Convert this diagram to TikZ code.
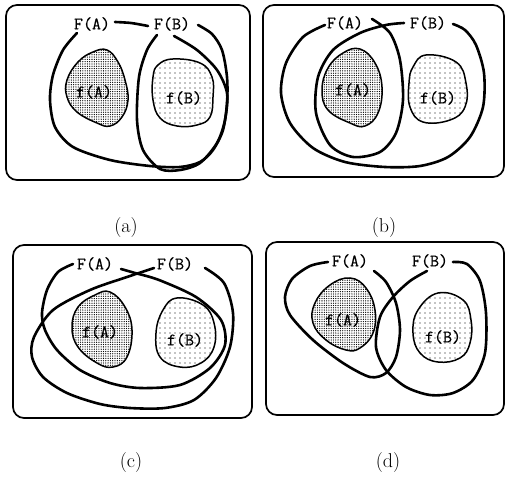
\documentclass[tikz,border=0pt]{standalone}
\usepackage{fontspec}
\newfontfamily\labfont{Latin Modern Mono}[FakeBold=0.6]
\usetikzlibrary{patterns.meta}
\tikzset{
  frame/.style={line width=1.7pt, rounded corners=11pt},
  curve/.style={line width=2.6pt, line cap=round, line join=round},
  blobA/.style={line width=1.5pt, pattern={Dots[distance=2.3pt, radius=0.65pt]}},
  blobB/.style={line width=1.5pt, pattern={Dots[distance=5pt, radius=0.65pt]}},
  lab/.style={inner sep=0pt, font=\labfont\fontsize{17.5}{17.5}\selectfont},
  captxt/.style={inner sep=0pt, font=\fontsize{20}{20}\selectfont}
}
\begin{document}
\begin{tikzpicture}[x=1pt,y=-1pt]
\useasboundingbox (0,0) rectangle (506,478);
% ---------- (a) ----------
\draw[frame] (6,5) rectangle (250,180);
\draw[blobA] plot[smooth cycle, tension=0.7] coordinates {(107,50) (118,62) (125,80) (128,100) (122,117) (110,126) (97,123) (77,112) (67,97) (67,80) (78,62) (93,52)};
\draw[blobB] plot[smooth cycle, tension=0.7] coordinates {(173,59) (200,63) (212,77) (213,97) (210,117) (197,125) (177,126) (160,118) (153,100) (153,77) (158,65)};
\node[lab] (aFA) at (92,24) {F(A)};
\node[lab] (aFB) at (172,24) {F(B)};
\node[lab] (afA) at (94,92) {f(A)};
\node[lab] (afB) at (184,98) {f(B)};
\draw[curve] plot[smooth] coordinates {(115,22) (131,23) (148,26)};
\draw[curve] plot[smooth] coordinates {(77,33) (63,50) (53,75) (50,100) (55,127) (73,147) (110,160) (150,166) (180,167) (200,162) (213,150) (223,130) (227,103) (227,77) (222,50) (212,34) (198,25)};
\draw[curve] plot[smooth] coordinates {(157,35) (147,50) (139,77) (137,120) (143,150) (160,169) (180,170) (200,163) (217,143) (225,120) (227,93) (217,70) (197,50) (174,36)};
\node[captxt] (capa) at (126,228) {(a)};
% ---------- (b) ----------
\draw[frame] (263,5) rectangle (504,177);
\draw[blobA] plot[smooth cycle, tension=0.7] coordinates {(360,49) (375,63) (382,87) (378,113) (365,126) (350,123) (328,110) (322,90) (328,68) (343,53)};
\draw[blobB] plot[smooth cycle, tension=0.7] coordinates {(426,55) (456,62) (466,83) (465,107) (450,120) (423,122) (410,107) (409,83) (413,67)};
\node[lab] (bFA) at (345,23) {F(A)};
\node[lab] (bFB) at (428,23) {F(B)};
\node[lab] (bfA) at (353,90) {f(A)};
\node[lab] (bfB) at (438,98) {f(B)};
\draw[curve] plot[smooth] coordinates {(325,25) (303,37) (286,63) (281,93) (290,123) (313,148) (345,162) (385,167) (420,166) (448,157) (470,137) (483,107) (484,73) (476,45) (465,30) (453,24)};
\draw[curve] plot[smooth] coordinates {(372,19) (390,33) (400,60) (403,100) (396,133) (380,152) (353,157) (330,145) (316,113) (318,77) (333,50) (360,33) (386,25) (404,23)};
\node[captxt] (capb) at (384,228) {(b)};
% ---------- (c) ----------
\draw[frame] (13,245) rectangle (252,418);
\draw[blobA] plot[smooth cycle, tension=0.7] coordinates {(110,292) (125,307) (132,330) (127,357) (113,367) (97,363) (78,347) (72,327) (78,307) (95,295)};
\draw[blobB] plot[smooth cycle, tension=0.7] coordinates {(177,298) (203,305) (214,323) (214,347) (201,363) (180,367) (160,357) (156,333) (163,310)};
\node[lab] (cFA) at (95,264) {F(A)};
\node[lab] (cFB) at (175,264) {F(B)};
\node[lab] (cfA) at (100,332) {f(A)};
\node[lab] (cfB) at (185,340) {f(B)};
\draw[curve] plot[smooth] coordinates {(73,264) (58,272) (47,290) (42,313) (45,330) (57,350) (80,370) (110,383) (140,388) (180,385) (210,368) (225,345) (221,320) (196,297) (159,280) (135,273) (121,269)};
\draw[curve] plot[smooth] coordinates {(154,268) (127,277) (90,290) (53,310) (34,337) (32,357) (43,377) (67,393) (100,404) (130,408) (165,408) (194,400) (216,378) (230,347) (233,313) (224,283) (205,268)};
\node[captxt] (capc) at (131,463) {(c)};
% ---------- (d) ----------
\draw[frame] (266,242) rectangle (504,415);
\draw[blobA] plot[smooth cycle, tension=0.7] coordinates {(350,278) (366,288) (375,310) (373,333) (360,348) (346,350) (326,340) (313,323) (315,303) (330,285)};
\draw[blobB] plot[smooth cycle, tension=0.7] coordinates {(438,293) (463,300) (471,320) (470,343) (460,358) (438,362) (420,353) (413,333) (418,310)};
\node[lab] (dFA) at (350,261) {F(A)};
\node[lab] (dFB) at (430,261) {F(B)};
\node[lab] (dfA) at (343,320) {f(A)};
\node[lab] (dfB) at (443,337) {f(B)};
\draw[curve] plot[smooth] coordinates {(328,262) (310,266) (292,279) (285,297) (290,315) (313,340) (343,363) (370,377) (386,373) (396,357) (400,330) (396,303) (386,282) (374,271)};
\draw[curve] plot[smooth] coordinates {(453,262) (467,264) (480,281) (486,313) (485,353) (473,380) (453,393) (430,395) (406,387) (386,370) (376,347) (380,317) (393,297) (410,281) (427,271)};
\node[captxt] (capd) at (388,463) {(d)};
\end{tikzpicture}
\end{document}
